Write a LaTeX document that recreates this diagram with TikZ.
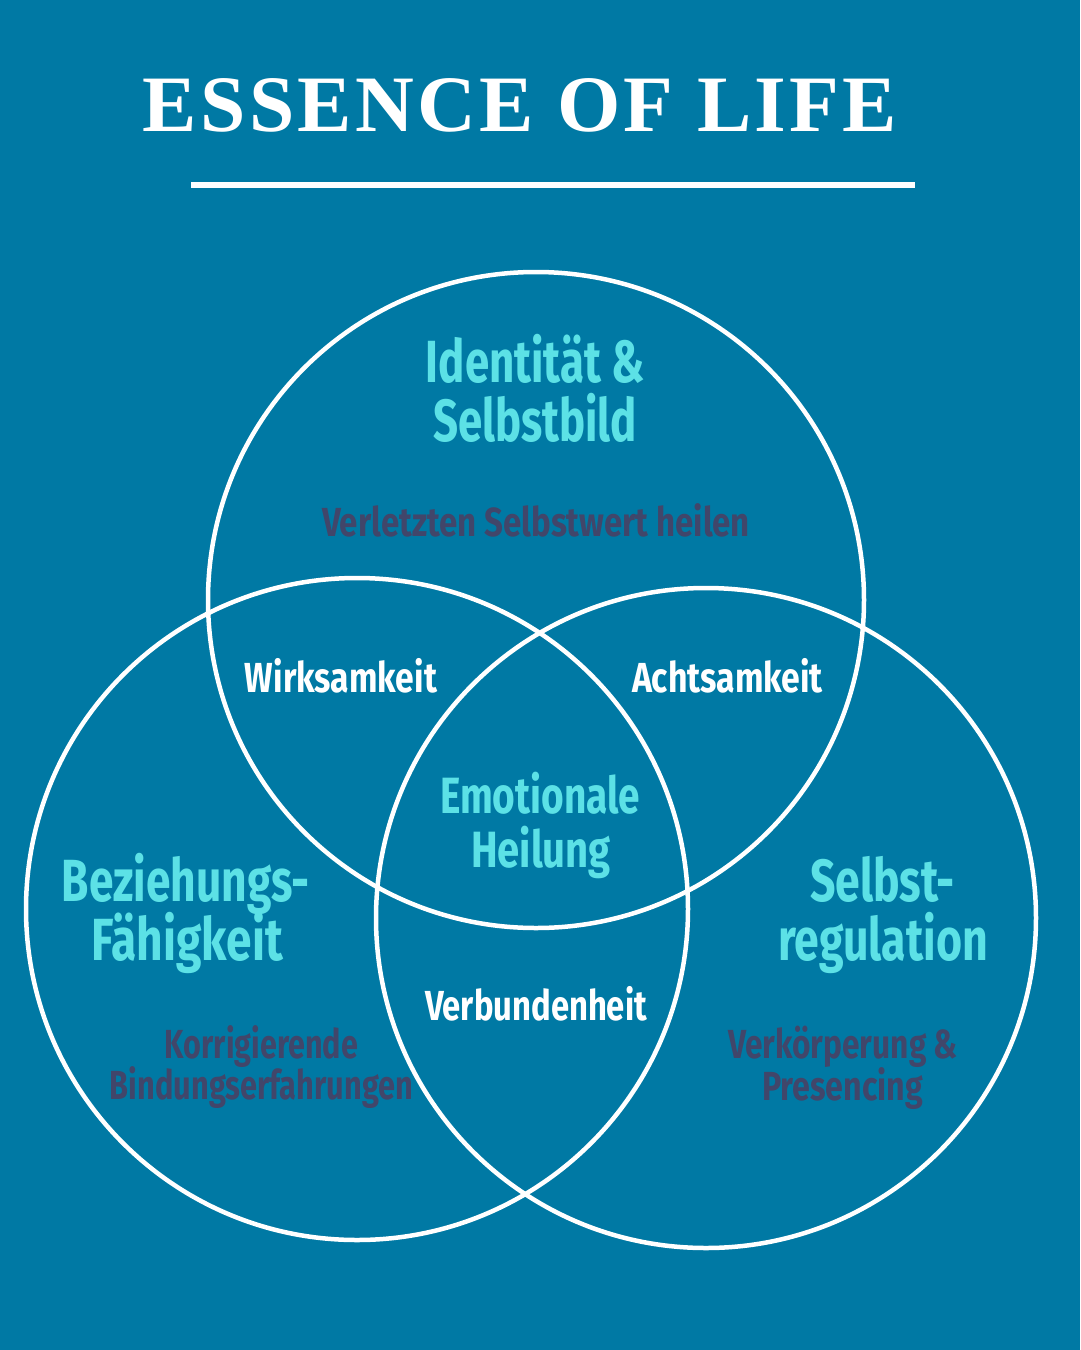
\documentclass[tikz,border=0pt]{standalone}
\usepackage{fontspec}
\usepackage{graphicx}
\newfontfamily\oswfont{Fira Sans}[FakeStretch=0.8]
\newfontfamily\ttlfont{Liberation Serif}[LetterSpace=4]
\definecolor{bgblue}{HTML}{0079A4}
\definecolor{cyanT}{HTML}{5CE1E6}
\definecolor{darkT}{HTML}{41466A}
\newcommand{\fw}[2]{\resizebox{#1pt}{\height}{#2}}
\tikzset{
  txt/.style={anchor=base, inner sep=0pt, outer sep=0pt},
  head/.style={txt, text=cyanT, font=\oswfont\bfseries\fontsize{59.5}{59.5}\selectfont},
  mid/.style={txt, text=cyanT, font=\oswfont\bfseries\fontsize{51}{51}\selectfont},
  sub/.style={txt, text=darkT, font=\oswfont\bfseries\fontsize{40.6}{40.6}\selectfont},
  lab/.style={txt, text=white, font=\oswfont\bfseries\fontsize{42}{42}\selectfont},
  ring/.style={draw=white, line width=4.5pt},
}
\begin{document}
\begin{tikzpicture}[x=1pt,y=1pt]
\fill[bgblue] (0,0) rectangle (1080,-1350);
\useasboundingbox (0,0) rectangle (1080,-1350);
% title
\node[txt, text=white, font=\ttlfont\bfseries\fontsize{80}{80}\selectfont] (title) at (520,-131) {\fw{754}{ESSENCE OF LIFE}};
\coordinate (ulL) at (191,-185);
\coordinate (ulR) at (915,-185);
\draw[white, line width=6.5pt] (ulL) -- (ulR);
% circles
\node[ring, circle, minimum size=656pt, inner sep=0pt] (ctop) at (536,-600) {};
\node[ring, circle, minimum size=662pt, inner sep=0pt] (cleft) at (357,-909) {};
\node[ring, circle, minimum size=660pt, inner sep=0pt] (cright) at (706,-918) {};
% top
\node[head] (t1) at (535.5,-382) {\fw{219}{Identität \&}};
\node[head] (t2) at (535,-441) {\fw{204}{Selbstbild}};
\node[sub] (t3) at (536,-536) {\fw{428}{Verletzten Selbstwert heilen}};
% overlaps
\node[lab] (w) at (341,-692) {\fw{192}{Wirksamkeit}};
\node[lab] (a) at (727.5,-692) {\fw{191}{Achtsamkeit}};
\node[lab] (v) at (536,-1020) {\fw{222}{Verbundenheit}};
\node[mid] (e1) at (540,-813) {\fw{200}{Emotionale}};
\node[mid] (e2) at (541,-867) {\fw{140}{Heilung}};
% left
\node[head] (l1) at (186,-901) {\fw{248}{Beziehungs-}};
\node[head] (l2) at (187.5,-960) {\fw{191}{Fähigkeit}};
\node[sub] (l3) at (261.5,-1058) {\fw{193}{Korrigierende}};
\node[sub] (l4) at (261.5,-1099) {\fw{303}{Bindungserfahrungen}};
% right
\node[head] (r1) at (882.5,-901) {\fw{145}{Selbst-}};
\node[head] (r2) at (883,-960) {\fw{210}{regulation}};
\node[sub] (r3) at (843,-1058) {\fw{230}{Verkörperung \&}};
\node[sub] (r4) at (842.5,-1100) {\fw{161}{Presencing}};
\end{tikzpicture}
\end{document}
